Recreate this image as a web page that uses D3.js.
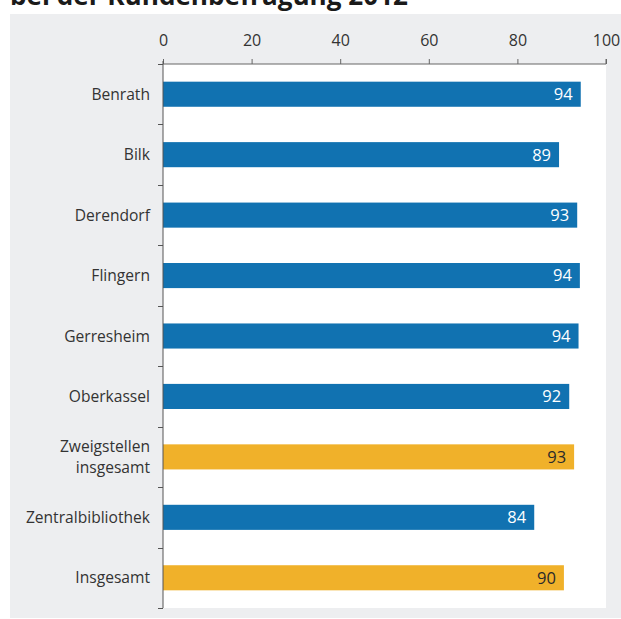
<!DOCTYPE html>
<html>
<head>
<meta charset="utf-8">
<script src="https://cdn.jsdelivr.net/npm/d3@7"></script>
<style>
  html, body { margin: 0; padding: 0; background: #ffffff; }
  svg { display: block; }
  text { font-family: "Open Sans", "Noto Sans", sans-serif; }
</style>
</head>
<body>
<svg id="chart" width="621" height="619"></svg>
<script>
const titleText = "bei der Kundenbefragung 2012";
const categories = ["Benrath", "Bilk", "Derendorf", "Flingern", "Gerresheim", "Oberkassel", "Zweigstellen\ninsgesamt", "Zentralbibliothek", "Insgesamt"];
const values = [94.3, 89.4, 93.5, 94.1, 93.8, 91.7, 92.8, 83.8, 90.5];
const labels = ["94", "89", "93", "94", "94", "92", "93", "84", "90"];
const isTotal = [false, false, false, false, false, false, true, false, true];
const xTicks = [0, 20, 40, 60, 80, 100];

const svg = d3.select("#chart");
const W = 621, H = 619;
const blue = "#1172b1", orange = "#f0b12a";

// gray panel
svg.append("rect").attr("x", 10).attr("y", 14).attr("width", W - 10).attr("height", 604).attr("fill", "#edeef0");

// title (cut off at top, as in the reference)
svg.append("text").attr("x", 10).attr("y", 5)
  .attr("font-size", 26).attr("font-weight", 700).attr("fill", "#1a1a1a")
  .attr("textLength", 398).attr("lengthAdjust", "spacingAndGlyphs")
  .text(titleText);

const plot = { left: 163, right: 606, top: 64, bottom: 608 };
svg.append("rect").attr("x", plot.left).attr("y", plot.top)
  .attr("width", plot.right - plot.left).attr("height", plot.bottom - plot.top).attr("fill", "#ffffff");

const x = d3.scaleLinear().domain([0, 100]).range([plot.left, plot.right]);
const y = d3.scaleBand().domain(categories).range([plot.top, plot.bottom]).paddingInner(0.585).paddingOuter(0.2925);

// bars
const g = svg.append("g");
g.selectAll("rect.bar").data(categories).join("rect")
  .attr("class", "bar")
  .attr("x", x(0))
  .attr("y", d => y(d))
  .attr("width", (d, i) => x(values[i]) - x(0))
  .attr("height", y.bandwidth())
  .attr("fill", (d, i) => isTotal[i] ? orange : blue);

g.selectAll("text.val").data(categories).join("text")
  .attr("class", "val")
  .attr("x", (d, i) => x(values[i]) - 8)
  .attr("y", d => y(d) + y.bandwidth() / 2)
  .attr("dy", "0.36em")
  .attr("text-anchor", "end")
  .attr("font-size", 16.5)
  .attr("fill", (d, i) => isTotal[i] ? "#2a2a2a" : "#ffffff")
  .text((d, i) => labels[i]);

// top axis
const xAxis = d3.axisTop(x).tickValues(xTicks).tickSize(5).tickPadding(13).tickFormat(d3.format("d"));
const xa = svg.append("g").attr("transform", `translate(0,${plot.top})`).call(xAxis);
xa.select(".domain").attr("stroke", "#666").attr("d", `M${plot.left},${0}H${plot.right}V-5`);
xa.selectAll(".tick line").attr("stroke", "#666");
xa.selectAll(".tick text").attr("font-size", 16).attr("fill", "#333")
  .attr("font-family", "'Open Sans', sans-serif");

// left axis: line with ticks at band boundaries
const la = svg.append("g");
la.append("line").attr("x1", plot.left).attr("x2", plot.left).attr("y1", plot.top - 3).attr("y2", plot.bottom)
  .attr("stroke", "#555").attr("stroke-width", 1);
const bounds = d3.range(categories.length + 1).map(i => plot.top + i * y.step());
la.selectAll("line.tk").data(bounds).join("line")
  .attr("class", "tk")
  .attr("x1", plot.left - 5).attr("x2", plot.left)
  .attr("y1", d => Math.round(d) + 0.5).attr("y2", d => Math.round(d) + 0.5)
  .attr("stroke", "#555");

// category labels
la.selectAll("text.cat").data(categories).join("text")
  .attr("class", "cat")
  .attr("text-anchor", "end")
  .attr("font-size", 15.6)
  .attr("fill", "#333")
  .each(function(d) {
    const lines = d.split("\n");
    const cy = y(d) + y.bandwidth() / 2;
    const lh = 21;
    const t = d3.select(this);
    lines.forEach((ln, k) => {
      t.append("tspan")
        .attr("x", plot.left - 13)
        .attr("y", cy + (k - (lines.length - 1) / 2) * lh)
        .attr("dy", "0.36em")
        .text(ln);
    });
  });
</script>
</body>
</html>
